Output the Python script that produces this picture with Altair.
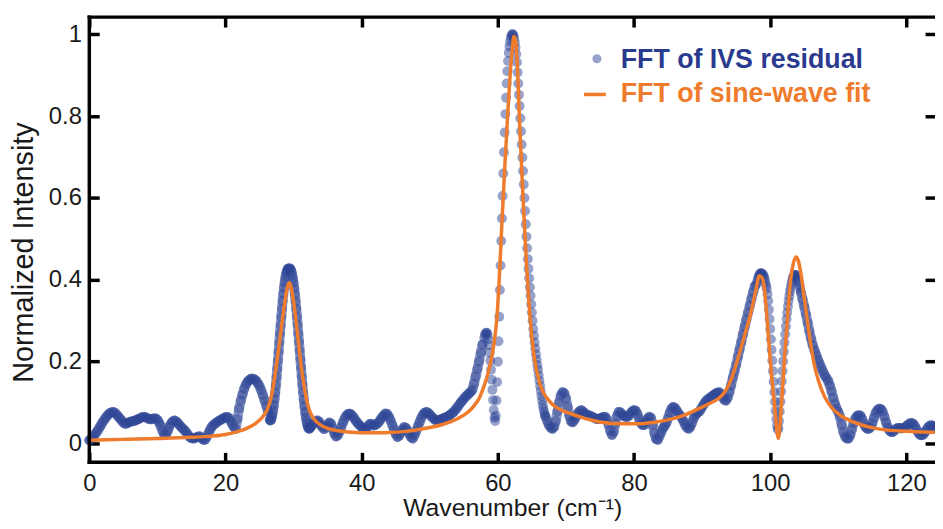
import altair as alt
import pandas as pd

# ---------------- data ----------------
# FFT of IVS residual: sampled segments (start, step, values)
SEG_A_START, SEG_A_STEP = 0.0, 0.25
SEG_A = [0.008, 0.011, 0.015, 0.020, 0.026, 0.032, 0.039, 0.046, 0.053, 0.059,
         0.065, 0.070, 0.074, 0.076, 0.077, 0.075, 0.071, 0.066, 0.061, 0.056,
         0.051, 0.048, 0.049, 0.051, 0.053, 0.054, 0.055, 0.056, 0.058, 0.060,
         0.062, 0.064, 0.065, 0.064, 0.062, 0.060, 0.059, 0.060, 0.061, 0.061,
         0.058, 0.051, 0.042, 0.031, 0.022, 0.021, 0.030, 0.041, 0.049, 0.054,
         0.056, 0.054, 0.050, 0.045, 0.040, 0.036, 0.032, 0.027, 0.021, 0.016,
         0.013, 0.012, 0.013, 0.015, 0.017, 0.017, 0.013, 0.009, 0.009, 0.016,
         0.025, 0.034, 0.041, 0.046, 0.049, 0.052, 0.055, 0.057, 0.060, 0.062,
         0.064, 0.065, 0.062, 0.055, 0.047, 0.040, 0.036, 0.060, 0.085, 0.105,
         0.120, 0.134, 0.144, 0.151, 0.155, 0.158, 0.158, 0.157, 0.153, 0.147,
         0.140, 0.130, 0.118, 0.105, 0.092, 0.078]
SEG_B_START, SEG_B_STEP = 26.5, 0.1
SEG_B = [0.058, 0.056, 0.058, 0.064, 0.072, 0.082, 0.094, 0.108, 0.124, 0.142,
         0.162, 0.182, 0.203, 0.224, 0.246, 0.268, 0.289, 0.310, 0.330, 0.349,
         0.366, 0.381, 0.394, 0.405, 0.414, 0.420, 0.425, 0.427, 0.428, 0.428,
         0.427, 0.424, 0.419, 0.412, 0.403, 0.392, 0.379, 0.364, 0.347, 0.329,
         0.310, 0.290, 0.269, 0.248, 0.227, 0.206, 0.185, 0.164, 0.144, 0.125,
         0.107, 0.091, 0.077, 0.065, 0.055, 0.047, 0.041, 0.037, 0.036, 0.038]
SEG_C_START, SEG_C_STEP = 32.5, 0.25
SEG_C = [0.040, 0.045, 0.050, 0.054, 0.056, 0.053, 0.046, 0.039, 0.035, 0.040,
         0.046, 0.051, 0.048, 0.036, 0.024, 0.017, 0.020, 0.029, 0.040, 0.051,
         0.061, 0.068, 0.072, 0.073, 0.070, 0.065, 0.059, 0.053, 0.048, 0.044,
         0.040, 0.037, 0.036, 0.038, 0.044, 0.048, 0.047, 0.044, 0.045, 0.048,
         0.052, 0.058, 0.064, 0.069, 0.073, 0.072, 0.065, 0.056, 0.045, 0.034,
         0.023, 0.016, 0.019, 0.027, 0.035, 0.040, 0.038, 0.031, 0.023, 0.015,
         0.012, 0.020, 0.030, 0.041, 0.052, 0.062, 0.070, 0.075, 0.077, 0.075,
         0.071, 0.066, 0.062, 0.058, 0.056, 0.056, 0.058, 0.060, 0.062, 0.063,
         0.065, 0.067, 0.070, 0.074, 0.077, 0.082, 0.087, 0.093, 0.099, 0.104,
         0.109, 0.114, 0.118, 0.122, 0.126, 0.131, 0.146, 0.164, 0.182, 0.201,
         0.222, 0.242]
SEG_D_START, SEG_D_STEP = 58.0, 0.1
SEG_D = [0.258, 0.265, 0.269, 0.271, 0.270, 0.265, 0.255, 0.240, 0.222, 0.202,
         0.180, 0.156, 0.131, 0.106, 0.082, 0.063, 0.055, 0.068, 0.105, 0.150,
         0.200, 0.250, 0.310, 0.375, 0.435, 0.495, 0.550, 0.605, 0.660, 0.712,
         0.760, 0.805, 0.845, 0.880, 0.910, 0.935, 0.955, 0.970, 0.982, 0.991,
         0.997, 1.000, 1.000, 0.997, 0.990, 0.980, 0.967, 0.951, 0.932, 0.907,
         0.880, 0.852, 0.825, 0.795, 0.763, 0.731, 0.699, 0.666, 0.633, 0.600,
         0.568, 0.536, 0.505, 0.477, 0.451, 0.427, 0.404, 0.382, 0.361, 0.340,
         0.320, 0.300, 0.280, 0.263, 0.247, 0.232, 0.218, 0.205, 0.192, 0.180,
         0.167, 0.154, 0.141, 0.128, 0.116, 0.105, 0.094, 0.085, 0.077, 0.070]
SEG_E_START, SEG_E_STEP = 67.0, 0.25
SEG_E = [0.066, 0.055, 0.045, 0.039, 0.036, 0.040, 0.055, 0.078, 0.100, 0.117,
         0.125, 0.123, 0.110, 0.090, 0.068, 0.054, 0.052, 0.058, 0.066, 0.074,
         0.079, 0.081, 0.078, 0.074, 0.071, 0.069, 0.068, 0.066, 0.064, 0.062,
         0.060, 0.060, 0.061, 0.063, 0.065, 0.065, 0.060, 0.047, 0.031, 0.021,
         0.028, 0.048, 0.067, 0.077, 0.076, 0.071, 0.067, 0.065, 0.065, 0.068,
         0.074, 0.079, 0.081, 0.080, 0.072, 0.060, 0.050, 0.045, 0.045, 0.053,
         0.061, 0.065, 0.062, 0.045, 0.025, 0.011, 0.009, 0.018, 0.028, 0.037,
         0.043, 0.050, 0.062, 0.075, 0.085, 0.089, 0.087, 0.081, 0.074, 0.069,
         0.063, 0.055, 0.046, 0.039, 0.036, 0.040, 0.050, 0.061, 0.069, 0.074,
         0.077, 0.082, 0.089, 0.096, 0.102, 0.107, 0.110, 0.113, 0.116, 0.119,
         0.122, 0.124, 0.125, 0.121, 0.114, 0.107, 0.105, 0.112, 0.125, 0.142,
         0.160, 0.176, 0.193, 0.212, 0.230, 0.248, 0.267, 0.285, 0.303, 0.320,
         0.337, 0.354, 0.370, 0.385]
SEG_F_START, SEG_F_STEP = 98.0, 0.1
SEG_F = [0.390, 0.397, 0.403, 0.408, 0.412, 0.415, 0.416, 0.416, 0.415, 0.413,
         0.411, 0.407, 0.401, 0.393, 0.386, 0.378, 0.365, 0.348, 0.327, 0.304,
         0.280, 0.255, 0.229, 0.203, 0.177, 0.151, 0.126, 0.102, 0.080, 0.060,
         0.044, 0.034, 0.038, 0.055, 0.078, 0.102, 0.127, 0.152, 0.177, 0.201,
         0.224, 0.246, 0.267, 0.286, 0.304, 0.320, 0.335, 0.348, 0.360, 0.371,
         0.380, 0.389, 0.396, 0.404, 0.408, 0.411, 0.412, 0.412, 0.411, 0.408,
         0.404, 0.399, 0.393, 0.386, 0.378]
SEG_G_START, SEG_G_STEP = 104.5, 0.25
SEG_G = [0.370, 0.352, 0.335, 0.315, 0.295, 0.275, 0.256, 0.240, 0.228, 0.216,
         0.205, 0.195, 0.185, 0.176, 0.167, 0.160, 0.153, 0.142, 0.128, 0.112,
         0.097, 0.085, 0.077, 0.065, 0.046, 0.028, 0.017, 0.012, 0.012, 0.020,
         0.035, 0.050, 0.061, 0.067, 0.069, 0.068, 0.060, 0.048, 0.040, 0.036,
         0.036, 0.040, 0.050, 0.063, 0.075, 0.082, 0.085, 0.084, 0.078, 0.066,
         0.052, 0.040, 0.032, 0.028, 0.028, 0.032, 0.036, 0.038, 0.038, 0.037,
         0.037, 0.039, 0.042, 0.046, 0.049, 0.050, 0.048, 0.042, 0.034, 0.026,
         0.021, 0.020, 0.022, 0.028, 0.035, 0.041, 0.044, 0.044, 0.042, 0.040,
         0.038]

# FFT of sine-wave fit
FIT_X = [0, 5, 10, 15, 18, 20, 22, 23.5, 24.5, 25.5, 26.2, 26.8, 27.3, 27.8, 28.3,
         28.8, 29.1, 29.4, 29.7, 30.1, 30.5, 31.0, 31.5, 32.0, 32.5, 33.0, 34.0,
         35.0, 36.5, 38.0, 40, 42, 44, 46, 48, 50, 52, 54, 55.5, 56.5, 57.3, 58.0,
         58.5, 58.9, 59.4, 59.85, 60.2, 60.6, 61.0, 61.4, 61.8, 62.1, 62.35, 62.6,
         62.85, 63.2, 63.7, 64.2, 64.7, 65.4, 66.2, 67.6, 68.6, 70.0, 71.5, 74.0,
         76.8, 80.7, 83.0, 85.6, 87.5, 89.5, 91.0, 92.4, 93.3, 94.3, 95.3, 96.2,
         97.2, 97.9, 98.4, 98.8, 99.2, 99.6, 100.1, 100.6, 101.2, 101.6, 102.1,
         102.6, 103.0, 103.4, 103.8, 104.1, 104.5, 105.0, 105.5, 106.0, 106.5,
         107.2, 107.9, 109.0, 110.3, 112.0, 113.7, 115.5, 117.6, 120.0, 122.5, 124.5]
FIT_Y = [0.008, 0.010, 0.012, 0.015, 0.018, 0.022, 0.030, 0.040, 0.050, 0.066,
         0.085, 0.120, 0.170, 0.230, 0.295, 0.355, 0.383, 0.393, 0.378, 0.335,
         0.280, 0.205, 0.145, 0.100, 0.074, 0.060, 0.045, 0.037, 0.031, 0.028,
         0.026, 0.026, 0.027, 0.029, 0.033, 0.039, 0.047, 0.060, 0.075, 0.092,
         0.112, 0.142, 0.168, 0.195, 0.240, 0.305, 0.400, 0.540, 0.670, 0.790,
         0.900, 0.960, 0.995, 0.985, 0.930, 0.780, 0.600, 0.440, 0.315, 0.205,
         0.145, 0.103, 0.088, 0.077, 0.068, 0.056, 0.049, 0.048, 0.052, 0.060,
         0.070, 0.085, 0.097, 0.110, 0.125, 0.158, 0.210, 0.262, 0.322, 0.375,
         0.410, 0.405, 0.370, 0.290, 0.185, 0.100, 0.012, 0.085, 0.210, 0.320,
         0.400, 0.440, 0.456, 0.448, 0.416, 0.355, 0.295, 0.238, 0.190, 0.148,
         0.117, 0.088, 0.069, 0.054, 0.044, 0.037, 0.032, 0.030, 0.028, 0.027]

X_TICKS = [0, 20, 40, 60, 80, 100, 120]
Y_TICKS = [0, 0.2, 0.4, 0.6, 0.8, 1]
LEGEND_LABELS = ["FFT of IVS residual", "FFT of sine-wave fit"]
X_TITLE = "Wavenumber (cm⁻¹)"
Y_TITLE = "Normalized Intensity"

# ---------------- build tables ----------------
# (start, step, values, densely sampled band?)
segments = [(SEG_A_START, SEG_A_STEP, SEG_A, True), (SEG_B_START, SEG_B_STEP, SEG_B, True),
            (SEG_C_START, SEG_C_STEP, SEG_C, True), (SEG_D_START, SEG_D_STEP, SEG_D, False),
            (SEG_E_START, SEG_E_STEP, SEG_E, True), (SEG_F_START, SEG_F_STEP, SEG_F, False),
            (SEG_G_START, SEG_G_STEP, SEG_G, True)]
rows = []
for k, (start, step, vals, dense) in enumerate(segments):
    for i, v in enumerate(vals):
        rows.append({"x": round(start + i * step, 3), "y": v, "seg": k, "dense": dense})
resid = pd.DataFrame(rows)
fit = pd.DataFrame({"x": FIT_X, "y": FIT_Y})

# ---------------- styling ----------------
W, H = 853, 449
FONT = "Liberation Sans"
BLUE = "#2e4595"
ORANGE = "#ef7b2c"
INK = "#1a1a1a"
LW = 3.5

xscale = alt.Scale(domain=[0, 124.2], nice=False, zero=False)
yscale = alt.Scale(domain=[-0.046, 1.042], nice=False, zero=False)

tick_common = dict(domain=False, offset=-10, tickSize=10, tickWidth=LW,
                   tickColor="black", grid=False)

ax_bottom = alt.Axis(values=X_TICKS, title=X_TITLE, format="d", labelFlush=False,
                     labelOverlap=False, labelFont=FONT, labelFontSize=24,
                     labelColor=INK, labelPadding=9, titleFont=FONT,
                     titleFontSize=25, titleFontWeight="normal", titleColor=INK,
                     titlePadding=1, **tick_common)
ax_left = alt.Axis(values=Y_TICKS, title=Y_TITLE, format="~g", labelFlush=False,
                   labelOverlap=False, labelFont=FONT, labelFontSize=24,
                   labelColor=INK, labelPadding=8, titleFont=FONT,
                   titleFontSize=29, titleFontWeight="normal", titleColor=INK,
                   titlePadding=10, titleY=237, **tick_common)
ax_top = alt.Axis(orient="top", values=X_TICKS, labels=False, title=None, **tick_common)
ax_right = alt.Axis(orient="right", values=Y_TICKS, labels=False, title=None, **tick_common)

band = alt.Chart(resid).transform_filter("datum.dense").mark_line(
    color=BLUE, strokeWidth=10, opacity=0.55, strokeCap="round", strokeJoin="round"
).encode(
    x=alt.X("x:Q", scale=xscale, axis=None),
    y=alt.Y("y:Q", scale=yscale, axis=None),
    detail="seg:N",
)
points = alt.Chart(resid).mark_circle(size=100, color=BLUE, opacity=0.5).encode(
    x=alt.X("x:Q", scale=xscale, axis=ax_bottom),
    y=alt.Y("y:Q", scale=yscale, axis=ax_left),
)
line = alt.Chart(fit).mark_line(color=ORANGE, strokeWidth=LW, interpolate="monotone").encode(
    x=alt.X("x:Q", scale=xscale, axis=ax_top),
    y=alt.Y("y:Q", scale=yscale, axis=ax_right),
)

one = pd.DataFrame({"k": [0]})
frame_top = alt.Chart(one).mark_rule(color="black", strokeWidth=LW, strokeCap="square").encode(
    x=alt.value(0), x2=alt.value(W), y=alt.value(0))
frame_bottom = alt.Chart(one).mark_rule(color="black", strokeWidth=LW, strokeCap="square").encode(
    x=alt.value(0), x2=alt.value(W), y=alt.value(H))
frame_left = alt.Chart(one).mark_rule(color="black", strokeWidth=LW, strokeCap="square").encode(
    x=alt.value(0), y=alt.value(0), y2=alt.value(H))

leg_dot = alt.Chart(one).mark_circle(size=85, color=BLUE, opacity=0.5).encode(
    x=alt.value(512), y=alt.value(42))
leg_line = alt.Chart(one).mark_rule(color=ORANGE, strokeWidth=LW).encode(
    x=alt.value(499), x2=alt.value(521), y=alt.value(78))
leg_t1 = alt.Chart(one).mark_text(align="left", baseline="alphabetic", font=FONT,
                                  fontSize=27, fontWeight="bold", color="#2a3b8f").encode(
    x=alt.value(536), y=alt.value(51), text=alt.value(LEGEND_LABELS[0]))
leg_t2 = alt.Chart(one).mark_text(align="left", baseline="alphabetic", font=FONT,
                                  fontSize=27, fontWeight="bold", color=ORANGE).encode(
    x=alt.value(536), y=alt.value(86), text=alt.value(LEGEND_LABELS[1]))

chart = alt.layer(
    band, points, line, frame_top, frame_bottom, frame_left,
    leg_dot, leg_line, leg_t1, leg_t2,
).resolve_axis(x="independent", y="independent").properties(
    width=W, height=H,
    autosize=alt.AutoSizeParams(type="none"),
    padding={"left": 82, "top": 7, "right": 0, "bottom": 57},
).configure_view(stroke=None).configure(background="white")

chart.save("out.html", embed_options={"renderer": "svg", "actions": False})
